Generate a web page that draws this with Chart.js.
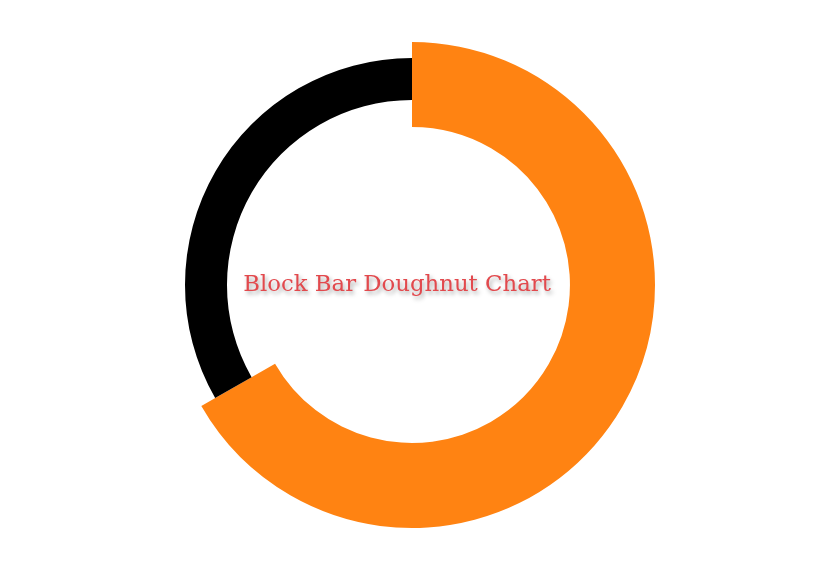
<!DOCTYPE html>
<html>
<head>
<meta charset="utf-8">
<script src="https://cdn.jsdelivr.net/npm/chart.js@4"></script>
<style>
  body { margin: 0; background: #fff; }
  #wrap { position: relative; width: 840px; height: 570px; }
  #wrap canvas { position: absolute; left: 0; top: 0; }
</style>
</head>
<body>
<div id="wrap">
  <canvas id="outerChart" width="840" height="570"></canvas>
  <canvas id="innerChart" width="840" height="570"></canvas>
</div>
<script>
const labels = ['Orange block', 'Black block'];
const values = [66.7, 33.3];
const title = 'Block Bar Doughnut Chart';

// center title, drawn with a soft shadow
const centerText = {
    id: 'centerText',
    afterDraw(chart) {
        const ctx = chart.ctx;
        const a = chart.chartArea;
        ctx.save();
        ctx.font = '22.8px "DejaVu Serif"';
        ctx.fillStyle = '#e2494d';
        ctx.textAlign = 'center';
        ctx.textBaseline = 'middle';
        ctx.shadowColor = 'rgba(0,0,0,0.35)';
        ctx.shadowOffsetX = 2;
        ctx.shadowOffsetY = 3;
        ctx.shadowBlur = 4;
        ctx.fillText(title, (a.left + a.right) / 2 - 15, (a.top + a.bottom) / 2);
        ctx.restore();
    }
};

function makeRing(id, colors, radius, cutout, plugins) {
    const ctx = document.getElementById(id).getContext('2d');
    return new Chart(ctx, {
        type: 'doughnut',
        data: {
            labels: labels,
            datasets: [{
                data: values,
                backgroundColor: colors,
                borderWidth: 0
            }]
        },
        options: {
            responsive: false,
            animation: false,
            radius: radius,
            cutout: cutout,
            layout: { padding: { right: 16 } },
            plugins: {
                legend: { display: false },
                tooltip: { enabled: false }
            }
        },
        plugins: plugins || []
    });
}

makeRing('outerChart', ['#ff8312', 'rgba(0,0,0,0)'], 243, '65%');
makeRing('innerChart', ['rgba(0,0,0,0)', '#000000'], 227, '81.5%', [centerText]);
</script>
</body>
</html>
